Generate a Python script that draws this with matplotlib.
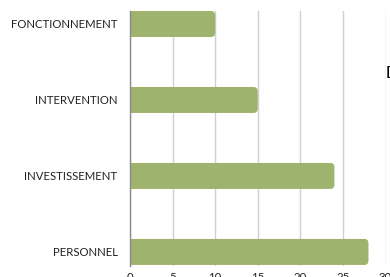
import matplotlib
matplotlib.use("Agg")
import matplotlib.pyplot as plt
from matplotlib.patches import FancyBboxPatch

categories = ["FONCTIONNEMENT", "INTERVENTION", "INVESTISSEMENT", "PERSONNEL"]
values = [10, 15, 24, 28]
xticks = [0, 5, 10, 15, 20, 25, 30]

plt.rcParams['font.family'] = ['Lato', 'DejaVu Sans']

W, H = 390, 277
fig = plt.figure(figsize=(W / 100, H / 100), dpi=100)
ax = fig.add_axes([130 / W, 1 - 266 / H, (385.5 - 130) / W, (266 - 11) / H])

color = "#9db36e"
bars = ax.barh(range(len(categories)), values, height=0.342, color=color)
ax.set_xlim(0, 30)
ax.set_ylim(3.185, -0.171)

# rounded right ends
r_x = 0.5
px_x = (385.5 - 130) / 30
px_y = (266 - 11) / (3.185 + 0.171)
aspect = px_x / px_y
for b in bars:
    b.set_visible(False)
    p = FancyBboxPatch((b.get_x() - 1, b.get_y()), b.get_width() + 1, b.get_height(),
                       boxstyle=f"round,pad=0,rounding_size={r_x}",
                       mutation_aspect=aspect, facecolor=color, edgecolor="none",
                       zorder=3, clip_on=True)
    ax.add_patch(p)

ax.set_yticks(range(len(categories)))
ax.set_yticklabels(categories, fontsize=8.2, color="#222222")
ax.set_xticks(xticks)
ax.set_xticklabels([str(t) for t in xticks], fontsize=8.2, color="#222222")
ax.tick_params(axis='y', length=0, pad=9)
ax.tick_params(axis='x', length=0, pad=4)

ax.grid(axis='x', color="#d0d0d0", linewidth=1)
ax.set_axisbelow(True)
for s in ['top', 'right', 'bottom']:
    ax.spines[s].set_visible(False)
ax.spines['left'].set_color("#8a8a8a")
ax.spines['left'].set_linewidth(1)
ax.spines['left'].set_zorder(4)

fig.text(386 / W, 1 - 74 / H, "D", fontsize=12.5, ha='left', va='center',
         color="black", family=['Liberation Sans', 'DejaVu Sans'])

fig.savefig("out.png", dpi=100)
